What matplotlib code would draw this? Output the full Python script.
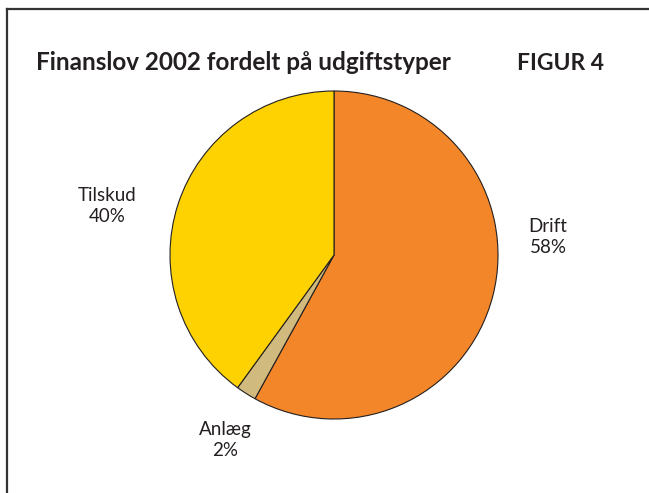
import matplotlib.pyplot as plt
from matplotlib.lines import Line2D

# Data
labels = ['Drift', 'Anlæg', 'Tilskud']
shares = [58, 2, 40]
colors = ['#F4862A', '#D1BA7E', '#FDD200']

W, H = 649, 493
fig = plt.figure(figsize=(W / 100, H / 100), dpi=100)
fig.patch.set_facecolor('white')

# frame (top and left edges visible)
fig.add_artist(Line2D([7 / W, 7 / W], [0, 1 - 9 / H], color='#333333', lw=1.6))
fig.add_artist(Line2D([7 / W, 1], [1 - 9 / H, 1 - 9 / H], color='#333333', lw=1.6))

plt.rcParams['font.family'] = ['Lato', 'DejaVu Sans']

fig.text(36 / W, 1 - 70 / H, 'Finanslov 2002 fordelt på udgiftstyper',
         fontsize=17.5, fontweight='bold', color='#231f20', ha='left', va='baseline')
fig.text(517 / W, 1 - 70 / H, 'FIGUR 4',
         fontsize=16.5, fontweight='bold', color='#231f20', ha='left', va='baseline')

# pie axes: centre (334, 255), radius 164 px
cx, cy, r = 334, 255, 164
ax = fig.add_axes([(cx - r) / W, 1 - (cy + r) / H, 2 * r / W, 2 * r / H])
ax.pie(shares, colors=colors, startangle=90, counterclock=False, radius=1,
       wedgeprops=dict(edgecolor='#231f20', linewidth=0.8))
ax.set_xlim(-1, 1)
ax.set_ylim(-1, 1)
ax.set_aspect('equal')
ax.axis('off')

# labels
label_pos = {'Drift': (548, 237), 'Anlæg': (225, 440), 'Tilskud': (107, 206)}
for lab, val in zip(labels, shares):
    px, py = label_pos[lab]
    fig.text(px / W, 1 - py / H, f'{lab}\n{val}%', fontsize=13.5, color='#231f20',
             ha='center', va='center', linespacing=1.3)

fig.savefig('out.png', dpi=100)
